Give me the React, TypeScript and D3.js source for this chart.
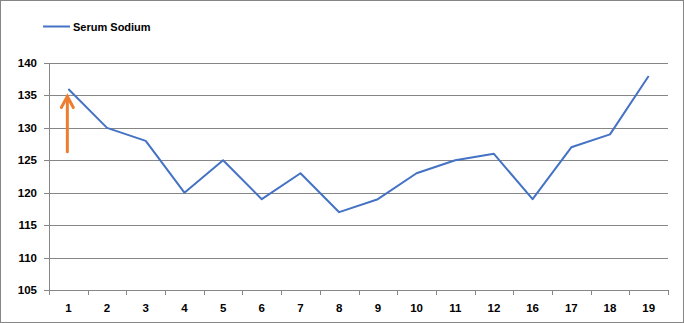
import React from "react";
import * as d3 from "d3";

const categories = ["1","2","3","4","5","6","7","8","9","10","11","12","16","17","18","19"];
const sodium = [136,130,128,120,125,119,123,117,119,123,125,126,119,127,129,138];
const yTicks = [105,110,115,120,125,130,135,140];
const seriesName = "Serum Sodium";

export default function App() {
  const W = 684, H = 323;
  const left = 49, right = 668, top = 63, bottom = 290;
  const x = d3.scaleBand<string>().domain(categories).range([left, right]);
  const y = d3.scaleLinear().domain([105, 140]).range([bottom, top]);
  const cx = (c: string) => (x(c) as number) + x.bandwidth() / 2;
  const line = d3.line<number>().x((_, i) => cx(categories[i])).y((d) => y(d));
  const font = "'Liberation Sans', Arial, sans-serif";
  const grid = "#868686";
  const ax = cx(categories[0]) - 1;
  const tipY = y(135);
  const tailY = y(126.3);
  return (
    <svg width={W} height={H} style={{ position: "absolute", left: 0, top: 0, display: "block" }}>
      <rect x={0.5} y={0.5} width={W - 1} height={H - 1} fill="#fff" stroke="#868686" />
      {yTicks.map((t) => (
        <g key={t}>
          <line x1={left - 5} x2={right} y1={Math.round(y(t)) + 0.5} y2={Math.round(y(t)) + 0.5} stroke={grid} />
          <text x={37} y={y(t) + 4} textAnchor="end" fontFamily={font} fontWeight="bold" fontSize={11.5} fill="#000">{t}</text>
        </g>
      ))}
      <line x1={left + 0.5} x2={left + 0.5} y1={top} y2={bottom} stroke={grid} />
      {categories.map((c, i) => (
        <g key={c}>
          <line x1={Math.round(x(c) as number) + 0.5} x2={Math.round(x(c) as number) + 0.5} y1={bottom} y2={bottom + 5} stroke={grid} />
          {i === categories.length - 1 && (
            <line x1={right + 0.5} x2={right + 0.5} y1={bottom} y2={bottom + 5} stroke={grid} />
          )}
          <text x={cx(c)} y={312} textAnchor="middle" fontFamily={font} fontWeight="bold" fontSize={11.5} fill="#000">{c}</text>
        </g>
      ))}
      <path d={line(sodium) || ""} fill="none" stroke="#4472C4" strokeWidth={2} strokeLinejoin="round" />
      <g stroke="#ED7D31" strokeWidth={3} fill="none" strokeLinecap="round">
        <line x1={ax} x2={ax} y1={tailY} y2={tipY + 2} />
        <polyline points={`${ax - 6},${tipY + 12} ${ax},${tipY + 1} ${ax + 6},${tipY + 12}`} strokeLinejoin="miter" />
      </g>
      <line x1={43} x2={70} y1={26.5} y2={26.5} stroke="#4472C4" strokeWidth={2} />
      <text x={73} y={30.5} fontFamily={font} fontWeight="bold" fontSize={11} fill="#000">{seriesName}</text>
    </svg>
  );
}
